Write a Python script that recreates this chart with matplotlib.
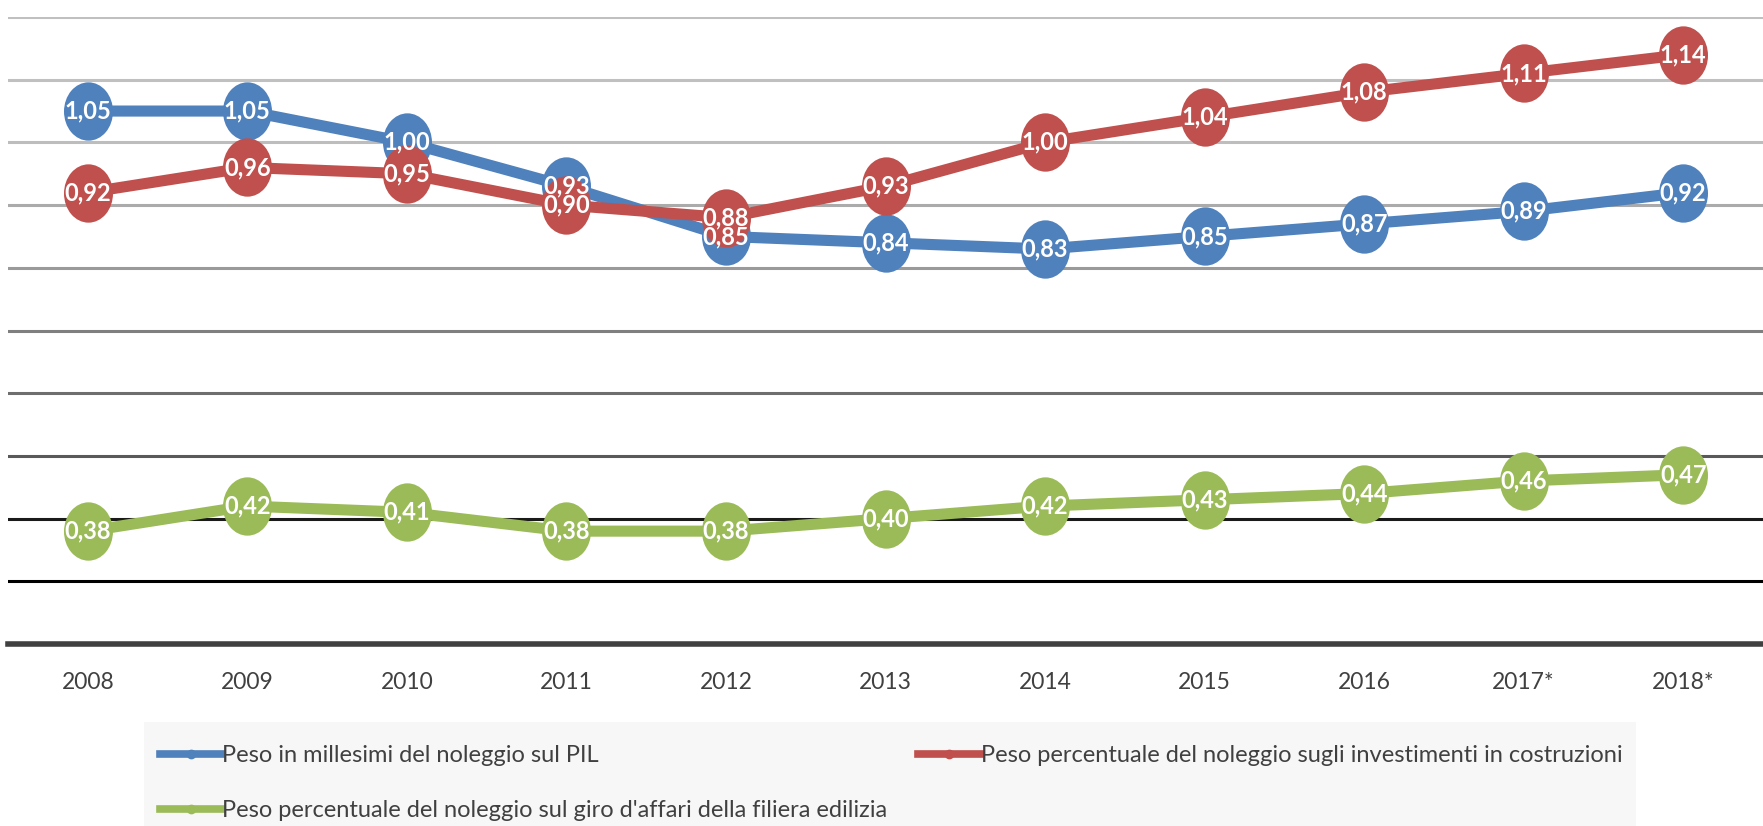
import matplotlib
matplotlib.use("Agg")
from matplotlib import pyplot as plt
from matplotlib.path import Path
from matplotlib.patches import Rectangle
from matplotlib.lines import Line2D

years = ["2008", "2009", "2010", "2011", "2012", "2013", "2014", "2015", "2016", "2017*", "2018*"]
pil = [1.05, 1.05, 1.00, 0.93, 0.85, 0.84, 0.83, 0.85, 0.87, 0.89, 0.92]
costruzioni = [0.92, 0.96, 0.95, 0.90, 0.88, 0.93, 1.00, 1.04, 1.08, 1.11, 1.14]
filiera = [0.38, 0.42, 0.41, 0.38, 0.38, 0.40, 0.42, 0.43, 0.44, 0.46, 0.47]

labels = [
    "Peso in millesimi del noleggio sul PIL",
    "Peso percentuale del noleggio sugli investimenti in costruzioni",
    "Peso percentuale del noleggio sul giro d'affari della filiera edilizia",
]

grid_vals = [0.3, 0.4, 0.5, 0.6, 0.7, 0.8, 0.9, 1.0, 1.1, 1.2]
grid_cols = ["#000000", "#1a1a1a", "#595959", "#6e6e6e", "#7f7f7f", "#9a9a9a",
             "#ababab", "#bdbdbd", "#c0c0c0", "#c0c0c0"]

BLUE = "#4f81bd"
RED = "#c0504d"
GREEN = "#9bbb59"
TXT = "#404040"

plt.rcParams["font.family"] = ["Lato", "DejaVu Sans"]

# slightly tall ellipse marker, like the excel one
circ = Path.unit_circle()
ell = Path(circ.vertices * [0.84, 1.0], circ.codes)

fig = plt.figure(figsize=(17.63, 8.26), dpi=100)
ax = fig.add_axes([8 / 1763, 1 - 644 / 826, 1 - 8 / 1763, (644 - 17) / 826])

x = list(range(len(years)))
for v, c in zip(grid_vals, grid_cols):
    ax.axhline(v, color=c, lw=2.2, zorder=1)

series = [(pil, BLUE, 2), (costruzioni, RED, 3), (filiera, GREEN, 4)]
for vals, col, z in series:
    ax.plot(x, vals, color=col, lw=8, marker=ell, markersize=42,
            markeredgewidth=0, solid_capstyle="butt", zorder=z)
for vals, col, z in series:
    for xi, v in zip(x, vals):
        ax.text(xi, v, f"{v:.2f}".replace(".", ","), ha="center", va="center",
                color="white", fontsize=17, fontweight="bold", zorder=6)

ax.set_xlim(-0.5, len(years) - 0.5)
ax.set_ylim(0.2, 1.2)
ax.set_yticks([])
ax.set_xticks(x)
ax.set_xticklabels(years, fontsize=16.5, color=TXT)
ax.tick_params(axis="x", length=0, pad=20)
for s in ["top", "left", "right"]:
    ax.spines[s].set_visible(False)
ax.spines["bottom"].set_color("#404040")
ax.spines["bottom"].set_linewidth(4)
ax.set_facecolor("none")

# legend background
fig.patches.append(Rectangle((144 / 1763, 0), (1636 - 144) / 1763, (826 - 722) / 826,
                             transform=fig.transFigure, facecolor="#f7f7f7",
                             edgecolor="none", zorder=0))

handles = [
    Line2D([], [], color=BLUE, lw=5.5, marker="o", markersize=6),
    Line2D([], [], color=GREEN, lw=5.5, marker="o", markersize=6),
    Line2D([], [], color=RED, lw=5.5, marker="o", markersize=6),
]
leg = fig.legend(handles, [labels[0], labels[2], labels[1]], ncol=2,
                 loc="upper left", bbox_to_anchor=(148 / 1763, 1 - 733 / 826),
                 frameon=False, fontsize=17, handlelength=2.6, handletextpad=0.05,
                 labelspacing=1.45, columnspacing=1.3, borderpad=0)
for t in leg.get_texts():
    t.set_color(TXT)

fig.savefig("out.png", dpi=100)
